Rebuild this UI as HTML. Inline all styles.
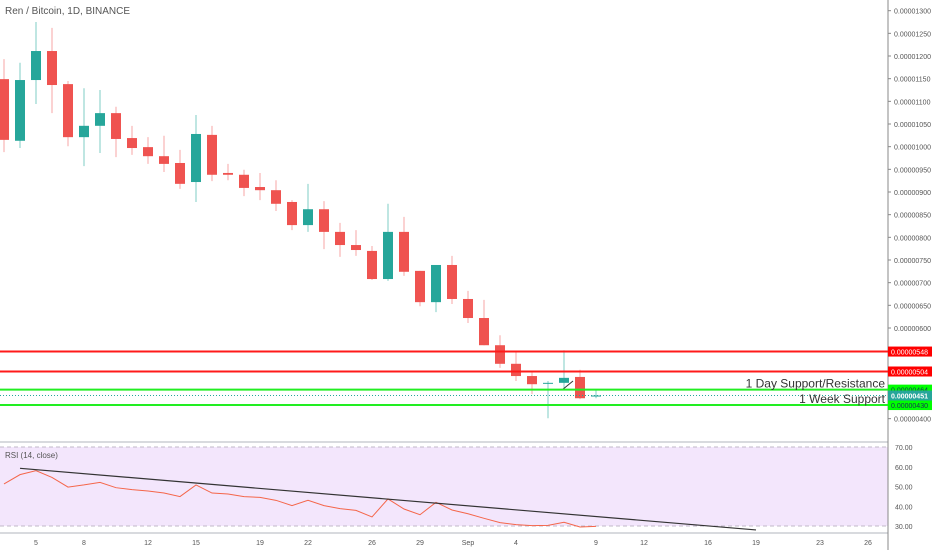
<!DOCTYPE html>
<html><head><meta charset="utf-8"><style>
body{margin:0;background:#fff;}
svg{display:block;font-family:"Liberation Sans",sans-serif;}
</style></head><body>
<svg id="c" width="932" height="550" viewBox="0 0 932 550"></svg>
<script>
const opens =[1149,1013,1147,1211,1138,1021,1046,1074,1019,999,979,964,922,1026,942,938,911,904,878,827,862,812,783,770,708,812,726,657,739,664,622,562,521,494,478,479,492,450];
const highs =[1193,1185,1275,1262,1145,1129,1125,1088,1046,1021,1024,993,1070,1046,962,949,942,926,882,918,880,832,816,781,874,845,726,739,759,682,662,584,547,503,483,551,508,462];
const lows  =[988,997,1094,1074,1001,957,986,977,982,962,944,907,878,924,926,891,882,858,816,812,774,757,759,706,704,715,648,635,653,611,562,512,483,454,401,463,443,445];
const closes=[1015,1147,1211,1136,1021,1046,1074,1017,997,979,962,918,1028,938,938,909,904,874,827,862,812,783,772,708,812,724,657,739,664,622,562,521,494,476,479,490,445,451];
const rsi=[51.3,56,58,54.6,49.7,50.8,52.1,49.4,48.4,47.7,46.7,44.9,50.8,46.7,46.2,44.9,44.5,43,40.3,43,40.3,38.8,37.9,34.6,43.7,38.6,35.7,42,38.1,36.2,33.9,31.7,30.7,30.2,30.3,31.9,29.5,29.8];
const priceTicks=[1300,1250,1200,1150,1100,1050,1000,950,900,850,800,750,700,650,600,550,500,450,400];
const rsiTicks=[70,60,50,40,30];
const dateLabels=["5","8","12","15","19","22","26","29","Sep","4","9","12","16","19","23","26"];
const dateIdx=[2,5,9,12,16,19,23,26,29,32,37,40,44,47,51,54];
const levels=[548,504,464,430];
const levelColors=["#ff1a1a","#ff1a1a","#22ee22","#22ee22"];
const lastPrice=451;
const trendIdx=[1,47];
const trendVal=[59.2,28];

const NS="http://www.w3.org/2000/svg";
const svg=document.getElementById('c');
const X=i=>4+16*i;
const Y=p=>192-(p-900)*0.4533;
const RY=v=>447+(70-v)*1.975;
function el(t,a,txt){const e=document.createElementNS(NS,t);for(const k in a)e.setAttribute(k,a[k]);if(txt!==undefined)e.textContent=txt;svg.appendChild(e);return e;}
const fmt=p=>(p/1e8).toFixed(8);

// title
let e=el('text',{x:5,y:14,'font-size':10,fill:'#555'},'Ren / Bitcoin, 1D, BINANCE');


// RSI pane
e=el('line',{x1:0,y1:442,x2:888,y2:442,stroke:'#b2b5be','stroke-width':1});

e=el('rect',{x:0,y:RY(70),width:888,height:RY(30)-RY(70),fill:'#f3e6fc'});

[70,30].forEach(v=>{const l=el('line',{x1:0,y1:RY(v),x2:888,y2:RY(v),stroke:'#c0b8c8','stroke-dasharray':'4 3'});
});
e=el('text',{x:5,y:458,'font-size':8,fill:'#555'},'RSI (14, close)');

e=el('line',{x1:0,y1:533,x2:888,y2:533,stroke:'#b2b5be'});


// axis line
e=el('line',{x1:888,y1:0,x2:888,y2:550,stroke:'#888','stroke-width':1});


priceTicks.forEach(p=>{const t=el('text',{x:894,y:Y(p)+3,'font-size':7,fill:'#555'},fmt(p));

const k=el('line',{x1:888,y1:Y(p),x2:891,y2:Y(p),stroke:'#888'});
});
rsiTicks.forEach(v=>{const t=el('text',{x:895,y:RY(v)+3,'font-size':7,fill:'#555'},v.toFixed(2));
});
dateLabels.forEach((d,k)=>{const t=el('text',{x:X(dateIdx[k]),y:545,'font-size':7,fill:'#555','text-anchor':'middle'},d);
});

// candles
opens.forEach((o,i)=>{const c=closes[i];const up=c>=o;const col=up?'#26a69a':'#ef5350';
const w=el('line',{x1:X(i),y1:Y(highs[i]),x2:X(i),y2:Y(lows[i]),stroke:up?'#7fcdc5':'#f7a6a4','stroke-width':1});

const top=Y(Math.max(o,c)),bot=Y(Math.min(o,c));
const b=el('rect',{x:X(i)-5,y:top,width:10,height:Math.max(1,bot-top),fill:col});
});

// small drawn line
e=el('line',{x1:562,y1:390,x2:573,y2:381,stroke:'#333','stroke-width':1});


// horizontal levels
levels.forEach((p,k)=>{const l=el('line',{x1:0,y1:Y(p),x2:888,y2:Y(p),stroke:levelColors[k],'stroke-width':2});

const r=el('rect',{x:888,y:Y(p)-5,width:44,height:10,fill:k<2?'#ff0000':'#00ff00'});

const t=el('text',{x:891,y:Y(p)+3,'font-size':7,fill:k<2?'#fff':'#135'},fmt(p));
});
e=el('line',{x1:0,y1:Y(lastPrice),x2:888,y2:Y(lastPrice),stroke:'#26a69a','stroke-dasharray':'1 2'});

e=el('rect',{x:888,y:Y(lastPrice)-5,width:44,height:10,fill:'#26a69a'});

e=el('text',{x:891,y:Y(lastPrice)+3,'font-size':7,fill:'#fff','font-weight':'bold'},fmt(lastPrice));


e=el('text',{x:885,y:Y(464)-2,'font-size':12,fill:'#333','text-anchor':'end'},'1 Day Support/Resistance');

e=el('text',{x:885,y:Y(430)-2,'font-size':12,fill:'#333','text-anchor':'end'},'1 Week Support');


// RSI line
e=el('polyline',{points:rsi.map((v,i)=>X(i)+','+RY(v)).join(' '),fill:'none',stroke:'#f4664a','stroke-width':1});

e=el('line',{x1:X(trendIdx[0]),y1:RY(trendVal[0]),x2:X(trendIdx[1]),y2:RY(trendVal[1]),stroke:'#333','stroke-width':1.2});

</script>
</body></html>
